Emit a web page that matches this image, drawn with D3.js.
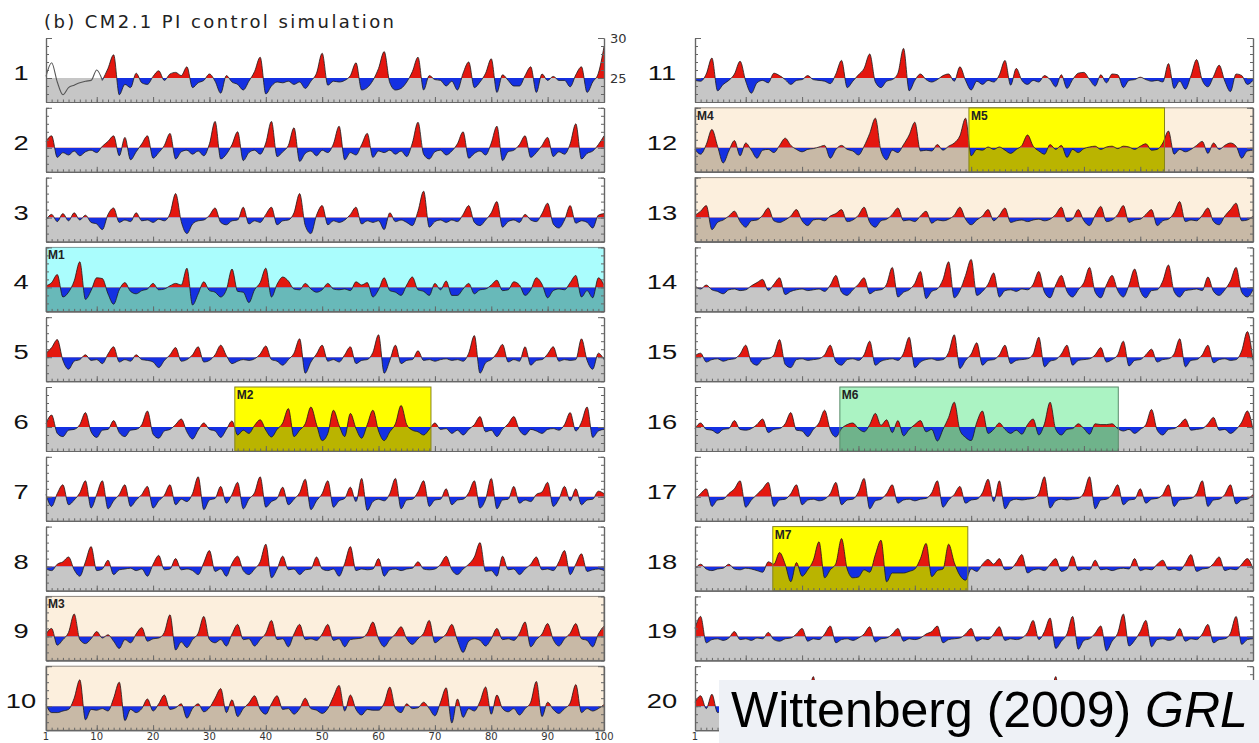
<html>
  <head>
    <meta charset="utf-8" />
    <script src="https://d3js.org/d3.v7.min.js"></script>
    <style>
      body { margin: 0; background: #fff; }
      svg { display: block; }
    </style>
  </head>
  <body>
    <div class="container"></div>
  </body>
</html>

<script>
  // Nino-3 SST anomalies (degC about the 25 degC line), one value per model year, centuries 1..20
  const years = d3.range(1, 101);
  const c01 = [0.2,1.9,-0.5,-2.1,-1.2,-0.9,-0.6,-0.4,-0.3,1.0, -0.3,1.2,2.9,-2.1,-0.8,-1.2,0.6,-0.6,-0.8,0.2, 0.9,-0.3,0.5,0.7,0.3,1.4,-1.2,-0.6,-0.3,0.5, -0.4,-1.9,0.3,-0.5,-0.8,-1.5,-0.4,0.8,2.6,-2.0, -1.0,-0.5,-0.6,-0.4,-0.8,-0.5,-1.3,-0.4,0.6,3.1, -0.9,-0.4,-0.5,-0.3,0.3,1.9,-1.5,-1.2,-0.3,1.2, 3.3,-0.6,-1.5,-1.3,-0.5,0.8,2.6,-1.5,0.3,-0.2, -0.3,-1.0,-0.4,-1.5,0.6,2.0,-1.2,-0.5,0.6,2.4, -1.8,0.4,-0.3,-1.0,-1.0,0.3,1.4,-1.8,0.5,-0.3, 0.2,-0.3,-0.3,-1.1,0.4,1.4,-1.8,-0.5,0.6,3.9];
  const c02 = [0.8,1.5,-1.2,-0.6,-0.9,-0.4,-1.0,-0.5,-0.3,-0.6, 0.2,0.8,1.5,-1.0,1.3,-1.5,-0.5,0.5,1.5,-1.3, -0.6,0.3,1.8,-1.4,-0.5,-0.3,-0.8,-0.4,-1.0,0.5, 3.3,-1.4,-0.8,0.4,2.0,-1.6,-0.6,-0.3,-0.8,0.6, 3.3,-1.1,-0.5,0.3,2.5,-1.7,-0.7,-0.4,-1.0,-0.3, -0.6,0.5,2.7,-1.5,-0.6,-0.9,0.4,1.8,-1.2,-0.4, -0.6,-0.3,-0.8,-0.4,-1.1,0.6,3.2,-0.8,-1.4,-0.5, -0.3,-0.9,-0.4,0.5,2.0,-1.3,-0.7,-0.4,-0.9,0.6, 2.7,-1.6,-0.5,-0.3,0.4,1.5,-1.2,-0.6,0.3,1.3, -1.1,-0.5,-0.8,0.5,3.0,-1.4,-0.7,-0.4,0.4,1.5];
  const c03 = [-0.3,0.4,-0.5,0.5,-0.4,0.6,-0.3,0.3,-0.6,-0.8, -1.5,0.4,1.2,-0.6,-0.3,-0.5,0.6,-0.4,-0.3,-0.6, -0.2,-0.4,0.5,3.0,-0.5,-2.0,-0.8,-0.4,-0.3,0.3, 1.2,-0.6,-0.9,-0.4,-0.3,1.3,-0.8,-0.4,-0.6,0.4, 1.3,-0.9,-0.4,-0.3,0.6,3.0,-1.0,-2.0,0.3,1.5, -0.9,-0.4,-0.6,-0.3,0.4,1.3,-0.8,-0.4,-0.6,-0.4, -1.5,0.6,-0.5,-0.3,-0.6,-1.0,0.8,3.3,-1.2,-0.5, -0.3,-0.6,-0.3,-0.5,0.4,1.5,-0.6,-1.0,-0.3,0.6, 2.0,-1.2,-0.5,-0.3,-0.6,0.4,-0.3,-0.5,0.5,1.8, -0.8,-1.3,-0.3,1.5,-0.7,-0.4,-0.6,-1.3,0.3,0.5];
  const c04 = [0.2,0.6,1.6,-1.2,-0.6,0.8,3.2,-1.5,-0.4,1.2, 1.1,-0.8,-2.1,-0.3,0.6,-0.5,-0.8,-0.4,-0.2,0.5, -0.3,-0.2,0.2,0.5,0.3,2.4,-2.2,-0.8,0.7,-0.4, -0.6,-1.2,-0.3,2.3,-0.5,-0.6,-1.9,-0.3,0.6,2.4, -1.2,0.4,1.3,0.8,-0.2,-0.3,0.5,-0.2,-0.6,-0.3, 0.5,-0.2,-0.3,-0.2,-0.4,0.7,0.3,0.6,-1.2,-0.3, 1.2,-0.4,-0.6,-1.0,0.3,1.3,-0.3,-0.5,-1.0,0.5, -0.3,0.8,-1.0,-1.0,-0.2,0.5,-0.8,-0.3,-0.2,0.3, 0.9,-0.4,-0.3,0.7,0.3,-1.0,-0.3,1.2,0.4,-1.3, -0.4,-0.2,-0.3,0.6,1.5,-1.2,-0.4,-1.3,1.2,0.3];
  const c05 = [0.5,1.2,2.2,-0.4,-1.5,-0.5,-0.3,0.3,-0.4,-0.3, -0.8,0.4,1.3,-0.6,-0.3,-0.5,0.3,-0.3,-0.4,-0.6, -1.3,-0.4,0.3,1.2,-0.5,-0.3,0.3,1.3,-0.6,-0.4, 0.3,1.5,0.2,-0.8,-0.5,-0.3,-0.4,-0.2,0.4,1.4, -0.3,-0.5,-1.0,-0.3,0.5,2.3,-2.0,-0.6,0.4,1.5, -0.5,-0.3,-0.6,0.3,1.3,-0.8,-0.4,-0.3,0.6,2.8, -2.0,-0.4,1.5,-0.8,-0.4,-0.3,0.8,-0.4,-0.3,-0.5, -0.3,-0.2,-0.4,-0.3,-0.5,0.5,2.7,-2.0,-0.7,-0.3, 0.5,1.6,-0.6,-0.3,-0.5,1.3,-1.0,-0.4,-0.3,0.4, 1.3,-0.5,-0.3,-0.4,-0.3,2.3,-0.4,-1.5,0.5,-0.3];
  const c06 = [0.4,1.5,-0.8,-1.2,-0.4,-0.3,0.3,1.8,-0.6,-1.3, -0.4,-0.3,0.8,-0.7,-1.2,-0.4,-0.3,0.3,2.0,-0.9, -1.4,-0.5,-0.3,0.3,1.0,-0.6,-1.5,-0.4,0.5,-0.3, -0.5,-1.3,-0.3,0.75,-1.0,-0.4,-0.8,0.2,0.9,-0.4, -1.25,-0.3,0.5,2.3,-1.2,-0.4,0.4,2.5,0.3,-1.7, -0.8,2.1,0.2,-1.2,1.7,-0.2,-1.4,0.3,2.1,-0.5, -1.7,-0.6,0.4,2.7,0.3,-0.4,-0.6,-1.0,-0.3,0.5, -0.3,-0.2,-0.8,-0.4,-1.0,-0.3,0.3,1.3,-0.6,-0.4, -1.2,-0.3,0.4,1.3,-0.4,-1.0,-0.3,-0.5,-0.8,-0.3, -0.2,-0.4,0.3,1.8,-0.5,0.6,2.5,-1.3,-0.5,-0.3];
  const c07 = [0.3,-1.2,0.4,1.5,-1.0,-0.4,0.5,2.0,-1.4,0.3, 2.0,-1.5,-0.5,0.3,1.5,-1.2,-0.4,0.3,1.3,-1.4, -0.5,0.2,1.5,-1.0,-0.3,-0.6,0.4,2.5,-1.6,-0.4, -0.2,1.3,-0.8,0.3,1.8,-1.5,-0.3,0.5,2.5,-1.3, -0.6,-0.2,1.2,-1.0,-0.3,0.5,2.2,-1.6,-0.5,0.4, 2.0,-1.3,-0.5,-0.2,1.2,-0.6,2.3,-1.7,-0.6,-0.3, -0.5,0.4,2.3,-1.5,-0.4,-0.3,0.6,2.0,-1.2,-0.4, -0.3,1.0,-1.0,-0.4,-0.3,0.5,2.0,-1.4,-0.3,2.3, -1.5,-0.4,-0.3,1.3,-0.8,-0.4,-0.6,0.3,0.6,1.8, -1.2,-0.3,1.3,-0.5,1.0,-1.0,-0.4,-0.3,0.7,0.4];
  const c08 = [-0.3,-0.5,0.3,0.6,1.2,-0.4,-1.2,0.6,2.5,-0.5, -0.3,0.8,-1.0,-0.4,-0.3,-0.2,-0.5,-0.3,-1.2,0.3, 1.4,-0.4,-0.3,1.0,-0.4,-0.3,-0.5,-1.0,0.5,2.0, -0.6,-0.3,-1.2,0.4,1.3,-0.5,-1.0,-0.3,0.6,2.8, -1.4,-0.3,1.3,-0.4,-0.3,-1.0,-0.4,-0.3,1.2,-0.3, -0.5,-0.3,-1.2,0.4,2.5,-0.5,-0.3,-0.4,-0.3,1.0, -1.2,-0.4,-0.3,-0.5,-0.3,-0.2,0.6,-0.3,-0.4,-0.3, 0.3,1.3,-0.4,-1.0,-0.3,0.3,1.2,3.0,-0.6,-0.5, -1.2,1.3,-0.4,-0.3,-1.0,-0.3,0.3,1.2,-0.4,-0.3, -0.5,0.6,2.0,-1.0,0.3,1.6,-0.6,-0.4,-0.3,-0.5];
  const c09 = [0.3,1.0,-1.1,-0.4,0.5,2.8,-0.4,-0.9,-0.3,0.6, -0.2,0.2,-0.6,-1.5,-0.4,-0.8,0.3,1.1,-0.6,-0.3, -0.2,0.5,2.7,-1.7,-0.7,-1.4,-0.4,0.4,2.5,-0.4, -0.8,-0.4,-1.2,0.3,1.5,-0.4,-0.3,-1.2,-0.4,0.4, 2.0,-0.4,-0.3,-1.3,0.3,1.5,-0.4,-0.3,-0.5,0.3, 1.5,-0.5,-0.3,-1.3,-0.4,-0.3,-0.2,0.4,1.8,-0.3, -1.3,-0.4,0.3,1.2,-0.3,-1.0,-0.3,0.4,2.0,-0.8, -0.3,0.3,1.5,-0.5,-2.0,-0.6,-0.3,-0.5,-1.2,-0.3, 1.0,-0.4,-0.3,-0.5,0.4,1.8,-1.3,-0.4,0.3,1.6, -0.4,-1.2,-0.3,0.4,1.6,-0.3,-0.5,-1.3,0.3,1.3];
  const c10 = [0.2,-0.8,-0.8,-0.6,-0.4,1.0,3.3,-1.7,-0.4,-0.5, -0.3,-0.6,1.0,3.0,-1.8,-0.4,-0.8,-0.3,0.9,-0.6, 0.3,1.4,-0.4,-0.2,0.3,-1.5,-0.3,0.3,-0.7,-0.2, 1.0,2.2,-0.8,0.8,-1.3,-0.3,0.4,1.3,-0.4,-1.0, 0.3,1.3,-0.4,-0.3,-1.0,-0.3,1.0,-0.3,-0.5,-0.9, -0.3,1.2,2.6,-0.6,1.4,-0.4,-1.1,-0.4,-0.5,-0.5, 0.4,2.4,-0.3,-0.8,0.3,-0.3,-0.2,0.5,-0.3,-1.2, 0.5,2.3,-2.1,0.9,-1.4,-0.3,-0.6,0.6,2.4,-1.0, 1.4,-0.3,-0.7,-0.3,-1.1,-0.3,0.5,3.1,-1.3,0.5, -0.4,-0.9,-0.3,0.4,2.7,-0.8,-0.3,-0.6,-0.3,0.2];
  const c11 = [-0.3,-0.4,0.5,2.5,-1.6,-0.8,-0.3,0.5,2.1,-0.4, -1.9,-0.6,-0.3,-0.6,0.6,0.3,-0.2,-0.8,-0.3,-0.2, 0.3,-0.2,-0.3,-0.4,-0.7,0.5,2.2,-1.2,-0.4,0.4, 1.2,3.0,-0.5,-1.2,-0.4,-0.2,0.6,3.7,-1.6,-0.3, 0.5,-0.2,-0.5,-0.2,0.3,0.5,-0.4,1.4,-0.3,-1.5, -0.4,-0.8,-0.3,-0.5,0.4,2.2,-0.9,1.2,-0.3,-0.8, -0.3,-0.5,0.3,-0.2,-1.1,0.4,-1.3,-0.2,0.6,0.7, -0.2,-1.0,0.4,-0.6,0.5,0.4,-1.2,-0.3,-0.2,0.1, -0.2,-0.4,-0.3,-0.5,1.8,-1.3,-0.4,-1.4,0.3,2.3, -0.3,-1.1,0.2,1.6,-0.4,-1.7,0.5,0.3,-0.8,-0.3];
  const c12 = [-0.2,-0.8,0.4,2.3,0.2,-1.9,-0.4,0.9,-1.0,0.6, -0.3,-1.3,-0.3,-0.2,-0.6,0.3,1.2,0.3,-0.2,-0.5, -0.2,-0.1,0.1,0.3,-1.3,-0.2,0.3,-0.2,-0.4,-0.9, 0.2,1.8,3.7,-0.4,-1.5,-0.3,-0.6,0.4,1.6,3.2, -0.4,-0.3,-0.4,0.4,-0.3,0.2,0.6,1.5,3.7,-1.0, -0.2,-0.3,0.1,-0.2,0.1,-0.3,-0.7,-0.2,0.3,1.6, 0.2,-0.4,-0.8,0.4,-0.2,0.3,-1.2,-0.2,-0.6,-0.1, 0.1,0.2,-0.2,0.1,0.2,-0.1,0.2,0.1,-0.2,0.2, 0.5,-0.3,-0.2,0.6,2.1,-0.8,-0.2,-0.5,-0.2,0.3, 0.8,-0.7,0.6,-0.2,0.3,0.6,0.2,-1.3,-0.4,-0.3];
  const c13 = [0.3,0.8,1.5,-1.5,-0.6,-0.3,0.2,0.8,-0.5,-1.2, -0.4,-0.3,0.3,1.2,-0.4,-0.6,-0.3,0.2,1.0,-0.4, -1.0,-0.3,-0.2,-0.4,0.2,0.5,1.0,-0.5,-0.3,0.3, 1.3,-0.6,-1.2,-0.4,-0.2,0.4,1.2,-0.4,-0.3,-0.5, 0.2,0.8,-0.7,-0.3,-0.4,-0.2,0.3,1.3,-0.2,-0.9, -0.3,0.2,1.0,-0.4,0.3,1.2,-0.6,-0.4,-0.3,-0.5, -0.3,-0.2,-0.4,-0.2,0.4,1.3,-0.5,-0.2,1.0,-0.4, -1.0,0.3,1.4,-0.5,-0.3,0.4,1.5,-0.6,-0.3,-0.2, 0.4,1.0,-1.0,-0.4,-0.2,0.6,2.0,-0.5,-0.3,-0.4, 0.3,1.2,-0.5,-0.9,0.2,1.0,1.8,-0.4,-0.3,0.2];
  const c14 = [0.2,-0.2,0.3,-0.3,-0.5,-0.8,-0.3,-0.2,-0.4,-0.3, 0.2,0.6,1.0,-0.4,0.4,1.2,-0.9,-0.5,-0.3,-0.2, -0.4,-0.3,-0.2,-0.5,0.3,1.5,-0.6,-1.0,-0.3,0.4, 1.2,-0.8,-0.4,-0.3,0.4,2.5,-1.2,-0.6,-0.3,0.5, 2.0,-1.4,-0.5,-0.2,1.0,3.2,-1.3,-0.4,1.5,3.5, -1.0,-0.5,0.4,1.8,-1.2,-0.4,-0.3,-0.5,-0.2,-0.3, 0.4,2.0,-0.6,-1.3,0.3,1.5,-0.5,-1.2,-0.3,0.6, 2.5,-0.6,-1.3,0.3,1.5,-0.4,-1.2,0.3,2.3,-0.4, -1.3,-0.4,-0.3,0.8,2.8,-0.5,-1.2,-0.4,-0.3,-0.2, -0.4,1.3,-0.5,-1.0,-0.3,0.8,2.5,-0.6,-1.2,-0.3];
  const c15 = [0.2,0.5,-0.6,-0.3,-0.2,-0.5,-0.3,-0.2,0.4,1.5, -0.6,-1.0,-0.3,-0.2,0.3,2.2,-0.9,-1.3,-0.3,-0.2, -0.4,-0.3,-0.2,0.3,1.5,-0.6,-1.0,-0.3,-0.2,-0.4, 0.3,2.0,-1.0,-0.5,-0.3,-0.2,-0.4,0.5,2.5,-1.3, -0.6,-0.3,-0.2,-0.4,-0.3,0.6,2.8,-1.4,-0.4,0.4, 1.8,-1.0,-0.4,-0.3,0.3,1.5,-0.8,-0.4,-0.3,-0.2, 0.4,2.5,-1.2,-0.5,-0.3,0.4,1.5,-1.0,-0.4,-0.3, -0.2,0.3,1.2,-0.6,-0.3,0.3,2.0,-1.1,-0.4,-0.3, 0.3,1.0,-0.6,-0.3,-0.2,0.4,2.3,-1.2,-0.4,-0.3, 0.3,1.5,-0.7,-0.3,-0.2,-0.4,-0.3,0.8,3.2,-0.4];
  const c16 = [-0.2,0.5,-0.3,-0.4,-0.8,-0.3,-0.2,0.8,-0.3,-0.4, -0.2,0.3,1.0,-0.7,-0.3,-0.2,0.4,1.8,-0.4,-0.5, -1.2,-0.3,0.5,2.1,-0.4,-1.25,-0.2,0.3,0.5,-0.2, -0.6,0.3,1.7,0.2,0.9,-0.7,0.8,-1.1,-0.3,0.3, 0.8,-0.6,-0.3,-1.75,-0.3,1.2,3.1,-0.4,-1.3,-1.7, 0.6,2.0,-0.8,-0.3,0.5,-0.3,-0.8,-0.4,-0.9,0.3, 1.0,-1.0,0.4,3.1,-0.3,-1.0,-0.3,-0.2,0.4,-0.2, -0.9,0.4,0.3,0.3,0.4,-0.2,-0.5,-0.3,-0.8,-0.3, 0.3,2.2,-0.4,-1.0,-0.3,-0.2,0.3,1.0,-0.4,-0.3, -0.2,0.4,1.2,-0.4,-0.3,-0.8,-0.3,0.6,2.0,-0.3];
  const c17 = [-0.3,0.4,1.0,-1.2,-0.4,-0.3,0.4,1.0,2.0,-1.3, -0.4,0.3,1.0,1.8,-1.2,-0.4,-0.3,0.4,1.5,-1.0, -0.4,-0.3,-0.5,-0.3,0.4,1.8,-1.0,-0.4,-0.3,0.6, 2.3,-1.5,-0.5,-0.3,0.4,1.5,-0.8,-0.4,-0.3,-0.5, -0.3,-0.2,0.5,2.0,-1.3,-0.4,0.3,1.3,-0.8,-0.4, -0.3,0.5,2.2,-0.6,2.0,-1.5,-0.5,-0.3,-0.4,-0.3, -0.2,0.4,2.5,-1.4,-0.5,-0.3,-0.4,-0.3,-0.2,0.5, 2.5,-1.5,-0.4,-0.3,0.3,1.5,-1.0,-0.4,-0.3,1.0, -0.8,-0.3,-0.2,0.3,1.5,-1.2,-0.4,-0.3,-0.2,0.4, 2.0,-1.2,-0.4,-0.3,0.3,1.5,-0.9,-0.4,-0.3,0.3];
  const c18 = [-0.3,0.3,-0.3,-0.5,-0.3,-0.2,0.3,-0.3,-0.4,-0.2, -0.3,-0.5,-0.7,0.6,0.3,1.75,0.3,-1.9,0.5,-1.2, -0.4,0.8,3.1,-1.4,-0.4,0.4,3.5,-0.3,-1.4,-1.3, -0.4,-0.7,1.5,3.3,-1.9,-0.8,-0.8,-0.8,-0.6,-0.3, 1.0,2.9,-1.25,-0.5,-0.3,2.8,0.5,-1.1,-1.7,-0.3, -0.6,0.3,0.9,0.3,1.0,-0.4,-0.3,0.5,1.5,-0.8, -0.4,-0.3,-0.5,0.3,1.0,-0.6,-0.3,1.3,-0.5,-0.3, -0.4,0.8,-0.4,-0.3,-0.5,-0.3,-0.2,-0.3,1.0,-0.5, -0.3,-0.4,0.3,0.8,-0.4,-0.3,-0.5,0.4,1.5,-0.6, -0.3,-0.2,0.4,1.2,-0.5,-0.3,-0.4,0.3,1.0,-0.3];
  const c19 = [1.0,2.5,-0.8,-0.4,-0.3,-0.5,-0.2,0.6,-0.4,-0.3, -0.5,-0.2,-0.3,0.5,-0.4,-0.6,-0.3,-0.2,0.3,1.0, -0.6,-0.3,-0.4,0.3,1.3,-0.8,-0.4,-0.3,-0.5,-0.2, 0.3,1.2,-0.7,-0.3,-0.2,0.3,1.0,-0.6,-0.3,-0.4, -0.2,0.3,0.6,1.3,-0.8,-0.4,-0.3,-0.2,0.3,1.0, -0.6,-0.3,-0.4,0.3,1.2,-0.5,-0.3,-0.4,-0.2,0.5, 2.0,-0.4,0.6,2.3,-1.5,-0.6,0.3,2.5,-1.6,-0.5, -0.3,0.4,1.3,-1.8,-0.6,0.4,2.8,-1.2,-0.5,0.6, 2.0,-1.3,-0.4,-0.3,-0.5,-0.3,1.0,-0.6,-0.3,-0.4, 0.3,1.5,-0.8,-0.4,-0.3,0.4,2.5,-1.0,-0.4,-0.3];
  const c20 = [0.5,1.3,-0.3,1.5,-0.8,-0.4,-0.3,0.6,1.2,-0.7, -0.4,-0.3,-0.5,0.4,1.4,-0.8,-0.4,-0.3,-0.5,-0.2, 0.8,3.7,-1.3,-0.6,-0.3,-0.4,0.5,1.6,-0.9,-0.4, -0.3,-0.5,0.3,1.8,-1.0,-0.4,-0.3,-0.2,0.4,1.3, -0.7,-0.4,-0.3,0.3,2.0,-1.2,-0.5,-0.3,-0.4,0.3, 1.5,-0.8,-0.4,-0.3,0.4,2.2,-1.1,-0.4,-0.3,-0.2, -0.4,0.3,1.0,0.8,3.7,-1.4,-0.6,-0.3,0.3,1.4, -0.7,-0.4,-0.3,0.4,1.8,-1.0,-0.4,-0.3,-0.2,0.3, 1.2,-0.6,-0.4,-0.3,0.3,2.0,-1.1,-0.4,-0.3,-0.2, 0.3,1.3,-0.6,-0.3,-0.4,0.3,1.0,2.8,-0.8,-0.3];
  const centuries = [c01, c02, c03, c04, c05, c06, c07, c08, c09, c10,
                     c11, c12, c13, c14, c15, c16, c17, c18, c19, c20];

  const clim = 25;          // reference line, degC
  const spinupEnd = 11;     // century 1 starts with the model adjusting
  const yearTicks = [1, 10, 20, 30, 40, 50, 60, 70, 80, 90, 100];

  // highlighted epochs
  const epochCentury = [4, 6, 9, 10, 12, 12, 13, 16, 18];
  const epochLabel = ["M1", "M2", "M3", "", "M4", "M5", "", "M6", "M7"];
  const epochFrom = [1, 34.5, 1, 1, 1, 49.6, 1, 26.7, 14.8];
  const epochTo = [100, 69.3, 100, 100, 100, 84.3, 100, 76.1, 49.4];
  const epochKind = ["cyan", "yellow", "beige", "beige", "beige", "yellow", "beige", "green", "yellow"];

  const kinds = {
    beige: { hi: "#fcefdd", lo: "#c8b9a6", edge: "#8e877e" },
    yellow: { hi: "#ffff00", lo: "#bab400", edge: "#86841e" },
    cyan: { hi: "#aafdfd", lo: "#68b9b9", edge: "#789c9c" },
    green: { hi: "#abf3c3", lo: "#6fb38b", edge: "#5a8a6a" },
  };
  const red = "#e4170f", blue = "#1430e2", gray = "#c6c6c6";

  const cols = [[46, 604], [695, 1253]];
  const top0 = 38, step = 69.8, ph = 64;
  const bannerX = 719;

  const svg = d3
    .select(".container")
    .append("svg")
    .attr("width", 1259)
    .attr("height", 743)
    .style("font-family", "'Liberation Sans', Arial, sans-serif");
  const defs = svg.append("defs");

  svg
    .append("text")
    .attr("x", 44)
    .attr("y", 28)
    .attr("font-family", "'DejaVu Sans', sans-serif")
    .attr("font-size", 18)
    .attr("textLength", 350)
    .attr("lengthAdjust", "spacing")
    .attr("fill", "#222")
    .text("(b) CM2.1 PI control simulation");

  centuries.forEach((vals, i) => {
    const col = Math.floor(i / 10);
    const row = i % 10;
    const top = top0 + row * step;
    const x = d3.scaleLinear().domain([1, 100]).range(cols[col]);
    const y = d3.scaleLinear().domain([22, 30]).range([top + ph, top]);
    const y0 = y(clim);
    const bot = y(22);
    const g = svg.append("g");

    g.append("rect")
      .attr("x", x(1)).attr("y", y0)
      .attr("width", x(100) - x(1)).attr("height", bot - y0)
      .attr("fill", gray);

    const eps = d3.range(epochCentury.length).filter((k) => epochCentury[k] === i + 1);
    eps.forEach((k) => {
      const s = kinds[epochKind[k]];
      const x1 = x(epochFrom[k]), x2 = x(epochTo[k]);
      g.append("rect").attr("x", x1).attr("y", top).attr("width", x2 - x1).attr("height", y0 - top).attr("fill", s.hi);
      g.append("rect").attr("x", x1).attr("y", y0).attr("width", x2 - x1).attr("height", bot - y0).attr("fill", s.lo);
    });

    defs.append("clipPath").attr("id", "up" + i)
      .append("rect").attr("x", x(1)).attr("y", top - 2).attr("width", x(100) - x(1)).attr("height", y0 - top + 2);
    defs.append("clipPath").attr("id", "dn" + i)
      .append("rect").attr("x", x(1)).attr("y", y0).attr("width", x(100) - x(1)).attr("height", bot - y0);

    const pts = years.map((yr, k) => ({ yr: yr, v: clim + vals[k] }));
    const filled = i === 0 ? pts.filter((p) => p.yr >= spinupEnd) : pts;

    const area = d3.area().x((d) => x(d.yr)).y0(y0).y1((d) => y(d.v)).curve(d3.curveMonotoneX);
    const line = d3.line().x((d) => x(d.yr)).y((d) => y(d.v)).curve(d3.curveMonotoneX);

    g.append("path").datum(filled).attr("d", area).attr("fill", red).attr("clip-path", `url(#up${i})`);
    g.append("path").datum(filled).attr("d", area).attr("fill", blue).attr("clip-path", `url(#dn${i})`);
    g.append("path").datum(filled).attr("d", line)
      .attr("fill", "none").attr("stroke", "#1a1a1a").attr("stroke-width", 0.8);
    if (i === 0) {
      g.append("path").datum(pts.filter((p) => p.yr <= spinupEnd)).attr("d", line)
        .attr("fill", "none").attr("stroke", "#555").attr("stroke-width", 1.1);
    }

    eps.forEach((k) => {
      const s = kinds[epochKind[k]];
      const x1 = x(epochFrom[k]), x2 = x(epochTo[k]);
      g.append("rect").attr("x", x1).attr("y", top).attr("width", x2 - x1).attr("height", bot - top)
        .attr("fill", "none").attr("stroke", s.edge).attr("stroke-width", 1);
      if (epochLabel[k]) {
        g.append("text").attr("x", x1 + 2).attr("y", top + 12)
          .attr("font-size", 12).attr("font-weight", "bold").attr("fill", "#222")
          .text(epochLabel[k]);
      }
    });

    // axes, ticks pointing inwards
    const axisColor = "#666";
    const tempMinor = d3.range(22, 31);
    g.append("g").attr("transform", `translate(${x(1)},0)`).attr("color", axisColor)
      .call(d3.axisRight(y).tickValues(tempMinor).tickSize(3).tickSizeOuter(0).tickFormat(""));
    g.append("g").attr("transform", `translate(${x(1)},0)`).attr("color", axisColor)
      .call(d3.axisRight(y).tickValues([25, 30]).tickSize(6).tickSizeOuter(0).tickFormat(""));
    g.append("g").attr("transform", `translate(${x(100)},0)`).attr("color", axisColor)
      .call(d3.axisLeft(y).tickValues(tempMinor).tickSize(3).tickSizeOuter(0).tickFormat(""));
    g.append("g").attr("transform", `translate(${x(100)},0)`).attr("color", axisColor)
      .call(d3.axisLeft(y).tickValues([25, 30]).tickSize(6).tickSizeOuter(0).tickFormat(""));
    g.append("g").attr("transform", `translate(0,${bot})`).attr("color", axisColor)
      .call(d3.axisTop(x).tickValues(years).tickSize(2.5).tickSizeOuter(0).tickFormat(""));
    g.append("g").attr("transform", `translate(0,${bot})`).attr("color", axisColor)
      .call(d3.axisTop(x).tickValues(yearTicks).tickSize(5).tickSizeOuter(0).tickFormat(""));
    g.selectAll(".domain").attr("stroke-width", 1.2);

    // century number
    const cx = col === 0 ? 21 : 662;
    g.append("text")
      .attr("transform", `translate(${cx},${y0 + 2}) scale(1.3,1)`)
      .attr("text-anchor", "middle")
      .attr("font-size", 21)
      .attr("fill", "#111")
      .text(i + 1);

    if (i === 0) {
      [30, 25].forEach((t) => {
        g.append("text").attr("x", 610).attr("y", y(t) + 5)
          .attr("font-family", "'DejaVu Sans', sans-serif").attr("font-size", 13)
          .attr("fill", "#333").text(t);
      });
    }
    if (row === 9) {
      // labels that would sit under the citation banner are hidden in the original
      yearTicks.filter((t) => x(t) + 10 < bannerX || col === 0).forEach((t) => {
        g.append("text").attr("x", x(t)).attr("y", bot + 10)
          .attr("text-anchor", "middle")
          .attr("font-family", "'DejaVu Sans', sans-serif").attr("font-size", 10)
          .attr("fill", "#333").text(t);
      });
    }
  });

  // citation banner
  svg.append("rect").attr("x", bannerX).attr("y", 680).attr("width", 1259 - bannerX).attr("height", 63).attr("fill", "#eef1f6");
  const cite = svg.append("text").attr("x", 731).attr("y", 727).attr("font-size", 50).attr("fill", "#000");
  cite.append("tspan").text("Wittenberg (2009) ");
  cite.append("tspan").attr("font-style", "italic").text("GRL");
</script>
